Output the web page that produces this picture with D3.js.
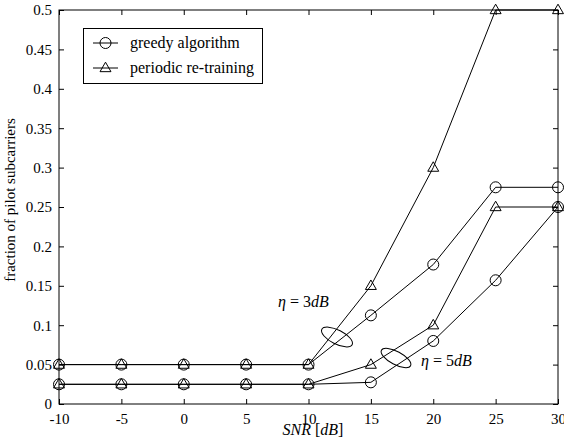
<!DOCTYPE html>
<html>
<head>
<meta charset="utf-8">
<script src="https://cdn.jsdelivr.net/npm/d3@7.9.0/dist/d3.min.js"></script>
<style>
  body { margin: 0; background: #fff; }
  svg { display: block; }
  svg text { font-family: "Liberation Serif", "Times New Roman", Times, "DejaVu Serif", serif; fill: #000; }
  .axis line { stroke: #000; stroke-width: 1; }
  .axis text { font-size: 15px; }
</style>
</head>
<body>
<svg id="chart" width="564" height="442"></svg>
<script>
// data
const snr = [-10, -5, 0, 5, 10, 15, 20, 25, 30];
const greedy3dB  = [0.05, 0.05, 0.05, 0.05, 0.05, 0.1125, 0.177, 0.275, 0.275];
const retrain3dB = [0.05, 0.05, 0.05, 0.05, 0.05, 0.15, 0.3, 0.5, 0.5];
const greedy5dB  = [0.025, 0.025, 0.025, 0.025, 0.025, 0.0275, 0.08, 0.157, 0.25];
const retrain5dB = [0.025, 0.025, 0.025, 0.025, 0.025, 0.05, 0.1, 0.25, 0.25];

const xTicks = [-10, -5, 0, 5, 10, 15, 20, 25, 30];
const yTicks = [0, 0.05, 0.1, 0.15, 0.2, 0.25, 0.3, 0.35, 0.4, 0.45, 0.5];
const yTickLabels = ['0', '0.05', '0.1', '0.15', '0.2', '0.25', '0.3', '0.35', '0.4', '0.45', '0.5'];

const legendLabels = ['greedy algorithm', 'periodic re-training'];

const svg = d3.select('#chart');
const mLeft = 59, mRight = 558, mTop = 10, mBottom = 404;

const x = d3.scaleLinear().domain([-10, 30]).range([mLeft, mRight]);
const y = d3.scaleLinear().domain([0, 0.5]).range([mBottom, mTop]);

/* axes: inward ticks on all four sides */
svg.append('g').attr('class', 'axis')
  .attr('transform', `translate(0,${mBottom})`)
  .call(d3.axisBottom(x).tickValues(xTicks).tickSize(-5).tickPadding(9)
          .tickFormat(d => String(d)));
svg.append('g').attr('class', 'axis')
  .attr('transform', `translate(0,${mTop})`)
  .call(d3.axisTop(x).tickValues(xTicks).tickSize(-5).tickFormat(''));
svg.append('g').attr('class', 'axis')
  .attr('transform', `translate(${mLeft},0)`)
  .call(d3.axisLeft(y).tickValues(yTicks).tickSize(-5).tickPadding(7)
          .tickFormat((d, i) => yTickLabels[i]));
svg.append('g').attr('class', 'axis')
  .attr('transform', `translate(${mRight},0)`)
  .call(d3.axisRight(y).tickValues(yTicks).tickSize(-5).tickFormat(''));
svg.selectAll('.axis path.domain').remove();
svg.selectAll('.axis').attr('font-family', null);
svg.append('rect')
  .attr('x', mLeft).attr('y', mTop)
  .attr('width', mRight - mLeft).attr('height', mBottom - mTop)
  .attr('fill', 'none').attr('stroke', '#000');

/* series */
const series = [
  { vals: greedy3dB, mark: 'circle' },
  { vals: retrain3dB, mark: 'triangle' },
  { vals: greedy5dB, mark: 'circle' },
  { vals: retrain5dB, mark: 'triangle' }
];
const line = d3.line().x((d, i) => x(snr[i])).y(d => y(d));
const tri = d3.symbol().type(d3.symbolTriangle).size(52);

function drawMark(g, mark, cx, cy) {
  if (mark === 'circle') {
    g.append('circle').attr('cx', cx).attr('cy', cy).attr('r', 5.5)
      .attr('fill', 'none').attr('stroke', '#000');
  } else {
    g.append('path').attr('d', tri)
      .attr('transform', `translate(${cx},${cy + 0.5})`)
      .attr('fill', 'none').attr('stroke', '#000');
  }
}

series.forEach(s => {
  svg.append('path').datum(s.vals)
    .attr('d', line).attr('fill', 'none').attr('stroke', '#000').attr('stroke-width', 1);
  const g = svg.append('g');
  s.vals.forEach((v, i) => drawMark(g, s.mark, x(snr[i]), y(v)));
});

/* ellipses + annotations */
svg.append('ellipse')
  .attr('rx', 17).attr('ry', 7)
  .attr('transform', 'translate(337,337) rotate(27)')
  .attr('fill', 'none').attr('stroke', '#000');
svg.append('ellipse')
  .attr('rx', 16.5).attr('ry', 6.5)
  .attr('transform', 'translate(396,358) rotate(28)')
  .attr('fill', 'none').attr('stroke', '#000');

function eta(xp, yp, num) {
  const t = svg.append('text').attr('x', xp).attr('y', yp).attr('font-size', 16);
  t.append('tspan').attr('font-style', 'italic').text('η');
  t.append('tspan').text(' = ' + num);
  t.append('tspan').attr('font-style', 'italic').text('dB');
}
eta(278, 307, '3');
eta(421, 366, '5');

/* legend */
const lg = svg.append('g');
lg.append('rect').attr('x', 83.5).attr('y', 28.5).attr('width', 179).attr('height', 55)
  .attr('fill', '#fff').attr('stroke', '#000');
legendLabels.forEach((lab, i) => {
  const ly = 43 + i * 25;
  lg.append('line').attr('x1', 93).attr('x2', 118).attr('y1', ly).attr('y2', ly)
    .attr('stroke', '#000');
  drawMark(lg, i === 0 ? 'circle' : 'triangle', 105.5, ly);
  lg.append('text').attr('x', 130).attr('y', ly + 5).attr('font-size', 16).text(lab);
});

/* axis titles */
const xt = svg.append('text').attr('x', 313).attr('y', 435)
  .attr('text-anchor', 'middle').attr('font-size', 16);
xt.append('tspan').attr('font-style', 'italic').text('SNR');
xt.append('tspan').text(' [');
xt.append('tspan').attr('font-style', 'italic').text('dB');
xt.append('tspan').text(']');

svg.append('text')
  .attr('transform', 'translate(15,200) rotate(-90)')
  .attr('text-anchor', 'middle').attr('font-size', 15)
  .text('fraction of pilot subcarriers');
</script>
</body>
</html>
